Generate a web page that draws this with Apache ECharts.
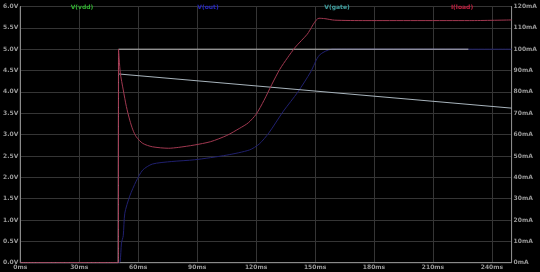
<!DOCTYPE html>
<html><head><meta charset="utf-8">
<script src="https://cdn.jsdelivr.net/npm/echarts@6/dist/echarts.min.js"></script>
<style>html,body{margin:0;padding:0;background:#000;}#c{width:540px;height:272px;}</style>
</head><body><div id="c"></div>
<script>
// ---- data (time in ms) ----
const traceNames = ['V(vdd)', 'V(out)', 'V(gate)', 'I(load)'];

const vddT = [0, 49.9, 50, 228];
const vddV = [0, 0, 5.0, 5.0];

const outT = [0, 49.9, 50.8, 51.5, 52.4, 53.2, 55.7, 59.0, 62.3, 67.2, 77.1, 88.6, 105.1, 116.6, 121.6, 126.5, 133.9, 141.3, 147.8, 152.2, 158.6, 250];
const outV = [0, 0, 0.02, 0.46, 0.63, 1.16, 1.56, 1.91, 2.17, 2.31, 2.37, 2.41, 2.52, 2.64, 2.78, 3.04, 3.55, 4.0, 4.47, 4.86, 5.0, 5.0];

const gateT = [0, 49.9, 50, 250];
const gateV = [0, 0, 4.42, 3.62];

const loadT = [0, 49.9, 50.0, 50.9, 52.4, 54.0, 55.7, 57.3, 59.0, 62.3, 67.2, 75.5, 80.4, 88.5, 96.9, 105.1, 111.7, 116, 120, 124, 128, 132, 136, 140, 146, 152, 155, 160, 175.9, 228.7, 250];
const loadMA = [0, 0, 100, 88.9, 80.9, 73.1, 66.8, 62.2, 59.0, 55.9, 54.3, 53.6, 54.0, 55.1, 56.7, 59.6, 63.0, 65.5, 69.5, 76, 83.5, 90.5, 96, 101, 107, 114.5, 114.3, 113.6, 113.4, 113.4, 113.7];

const xTicks = [0, 30, 60, 90, 120, 150, 180, 210, 240];

const zip = (a, b) => a.map((v, i) => [v, b[i]]);

const chart = echarts.init(document.getElementById('c'), null, {renderer: 'canvas'});
const lblStyle = {color: '#9a9a9a', fontSize: 6, fontFamily: 'DejaVu Sans', fontWeight: 'bold'};
const gridLine = {show: true, lineStyle: {color: '#353535', width: 1, type: 'solid'}};
chart.setOption({
  backgroundColor: '#000',
  animation: false,
  title: [
    {text: traceNames[0], left: 77, top: -1, textAlign: 'center', textStyle: {color: '#30b030', fontSize: 6, fontFamily: 'DejaVu Sans'}},
    {text: traceNames[1], left: 203, top: -1, textAlign: 'center', textStyle: {color: '#2828c0', fontSize: 6, fontFamily: 'DejaVu Sans'}},
    {text: traceNames[2], left: 332, top: -1, textAlign: 'center', textStyle: {color: '#40a0a0', fontSize: 6, fontFamily: 'DejaVu Sans'}},
    {text: traceNames[3], left: 457, top: -1, textAlign: 'center', textStyle: {color: '#c02040', fontSize: 6, fontFamily: 'DejaVu Sans'}}
  ],
  grid: {left: 14, right: 20, top: 6.5, bottom: 9.3, show: true, borderColor: '#8a8a8a', borderWidth: 1},
  xAxis: {
    type: 'value', min: 0, max: 250, interval: 30,
    axisLine: {show: true, lineStyle: {color: '#8a8a8a'}},
    axisTick: {show: false},
    splitLine: gridLine,
    axisLabel: Object.assign({margin: 2, showMaxLabel: false, formatter: v => xTicks.indexOf(v) >= 0 ? v + 'ms' : ''}, lblStyle)
  },
  yAxis: [
    {type: 'value', min: 0, max: 6, interval: 0.5, position: 'left',
      axisLine: {show: true, lineStyle: {color: '#8a8a8a'}}, axisTick: {show: false},
      splitLine: gridLine,
      axisLabel: Object.assign({margin: 2, formatter: v => v.toFixed(1) + 'V'}, lblStyle)},
    {type: 'value', min: 0, max: 120, interval: 10, position: 'right',
      axisLine: {show: true, lineStyle: {color: '#8a8a8a'}}, axisTick: {show: false},
      splitLine: {show: false},
      axisLabel: Object.assign({margin: 2, formatter: v => v + 'mA'}, lblStyle)}
  ],
  series: [
    {name: traceNames[1], type: 'line', yAxisIndex: 0, data: zip(outT, outV), showSymbol: false, smooth: 0.25,
      lineStyle: {color: '#20206e', width: 1}},
    {name: traceNames[0], type: 'line', yAxisIndex: 0, data: zip(vddT, vddV), showSymbol: false,
      lineStyle: {color: '#bcbcbc', width: 1}},
    {name: traceNames[2], type: 'line', yAxisIndex: 0, data: zip(gateT, gateV), showSymbol: false,
      lineStyle: {color: '#a8b4bc', width: 1}},
    {name: traceNames[3], type: 'line', yAxisIndex: 1, data: zip(loadT, loadMA), showSymbol: false, smooth: 0.25,
      lineStyle: {color: '#a03850', width: 1}}
  ]
});
</script></body></html>
